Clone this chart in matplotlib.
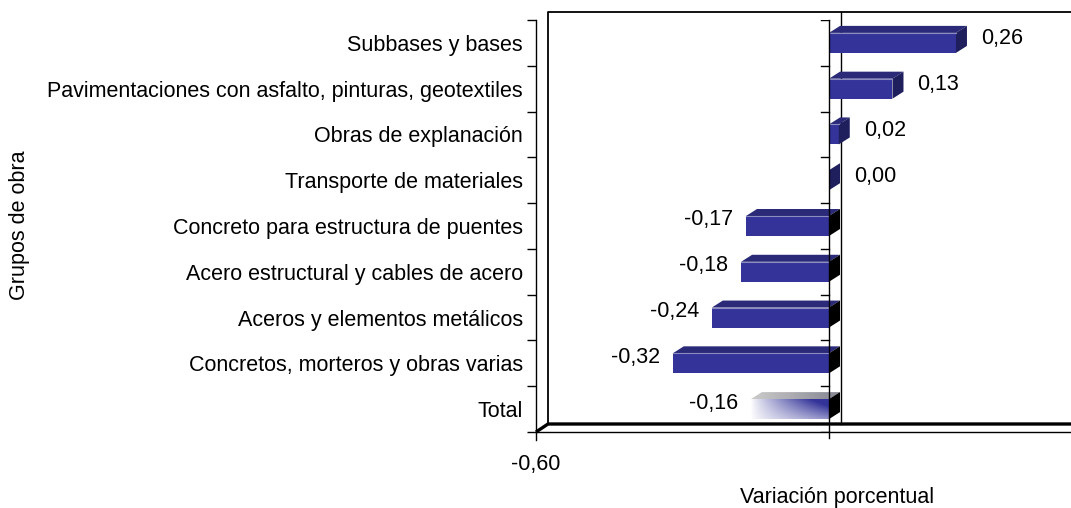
import matplotlib.pyplot as plt
import numpy as np
from matplotlib.patches import Polygon

categorias = ["Subbases y bases",
              "Pavimentaciones con asfalto, pinturas, geotextiles",
              "Obras de explanación",
              "Transporte de materiales",
              "Concreto para estructura de puentes",
              "Acero estructural y cables de acero",
              "Aceros y elementos metálicos",
              "Concretos, morteros y obras varias",
              "Total"]
variacion = [0.26, 0.13, 0.02, 0.00, -0.17, -0.18, -0.24, -0.32, -0.16]
x_ticks = [-0.60, 0.0]
x_tick_labels = ["-0,60", ""]

W, H = 1071, 508
DPI = 100
plt.rcParams['font.family'] = ['Liberation Sans', 'DejaVu Sans']
FS = 15.5

# pixel geometry of the front plane
PX_LEFT, PX_ZERO, PX_TOP, PX_BOT = 536, 829, 20, 432
px_per_unit = (PX_ZERO - PX_LEFT) / 0.6
n = len(categorias)
px_per_cat = (PX_BOT - PX_TOP) / n

fig = plt.figure(figsize=(W / DPI, H / DPI), dpi=DPI)
ax = fig.add_axes([PX_LEFT / W, (H - PX_BOT) / H, (W - PX_LEFT) / W, (PX_BOT - PX_TOP) / H])
xmax = -0.6 + (W - PX_LEFT) / px_per_unit
ax.set_xlim(-0.6, xmax)
ax.set_ylim(n - 0.5, -0.5)

def dxp(px):
    return px / px_per_unit

def dyp(px):
    return px / px_per_cat

# frame depth and bar depth
fdx, fdy = dxp(12), dyp(8)
bdx, bdy = dxp(11), dyp(7)
bh = 20 / px_per_cat

ybot = n - 0.5
ytop = -0.5
# back wall
ax.plot([-0.6 + fdx, -0.6 + fdx, xmax + 1], [ybot - fdy, ytop - fdy, ytop - fdy],
        color='black', lw=1.3, clip_on=False, zorder=1)
# floor
ax.plot([-0.6, -0.6 + fdx, xmax + 1], [ybot, ybot - fdy, ybot - fdy],
        color='black', lw=2.4, clip_on=False, zorder=1, solid_capstyle='butt')
ax.plot([-0.6, xmax + 1], [ybot, ybot], color='black', lw=1.0, clip_on=False, zorder=1)
# back zero line
ax.plot([fdx, fdx], [ybot - fdy, ytop - fdy], color='black', lw=1.0, clip_on=False, zorder=1)

front = '#333399'
top_c = '#2A2A78'
side_pos = '#1F1F5E'
edge_light = '#8C8CC0'

for i, v in enumerate(variacion):
    x0, x1 = min(0.0, v), max(0.0, v)
    yt, yb = i - bh / 2, i + bh / 2
    if i == n - 1:
        # gradient bar for the total
        gx = np.linspace(0, 1, 200)[None, :]
        gy = np.linspace(0, 1, 40)[:, None]
        t = np.clip(gx ** 0.8 * (1.0 - 0.45 * gy) + 0.25 * (1 - gy) * gx, 0, 1)
        blue = np.array([0.2, 0.2, 0.6])
        rgb = (1 - t[..., None]) * np.array([1.0, 1.0, 1.0]) + t[..., None] * blue
        ax.imshow(rgb, extent=[x0, x1, yb, yt], aspect='auto', zorder=3,
                  interpolation='bilinear')
        gt = np.linspace(0, 1, 200)[None, :]
        g = 0.80 - 0.28 * gt
        rgb2 = np.dstack([g, g, g + 0.05 * gt])
        rgb2 = np.repeat(rgb2, 10, axis=0)
        top_poly = Polygon([(x0, yt), (x1, yt), (x1 + bdx, yt - bdy), (x0 + bdx, yt - bdy)],
                           closed=True, facecolor='none', edgecolor='none')
        ax.add_patch(top_poly)
        im = ax.imshow(np.clip(rgb2, 0, 1), extent=[x0, x1 + bdx, yt, yt - bdy],
                       aspect='auto', zorder=3, interpolation='bilinear')
        im.set_clip_path(top_poly)
        ax.set_xlim(-0.6, xmax)
        ax.set_ylim(n - 0.5, -0.5)
    else:
        ax.add_patch(Polygon([(x0, yt), (x1, yt), (x1, yb), (x0, yb)], closed=True,
                             facecolor=front, edgecolor='none', zorder=3))
        ax.add_patch(Polygon([(x0, yt), (x1, yt), (x1 + bdx, yt - bdy), (x0 + bdx, yt - bdy)],
                             closed=True, facecolor=top_c, edgecolor='none', zorder=3))
        ax.plot([x0, x1], [yt, yt], color=edge_light, lw=0.8, zorder=4)
    side = side_pos if v >= 0 else 'black'
    ax.add_patch(Polygon([(x1, yt), (x1 + bdx, yt - bdy), (x1 + bdx, yb - bdy), (x1, yb)],
                         closed=True, facecolor=side, edgecolor='none', zorder=3))
    label = f"{v:.2f}".replace('.', ',')
    if v >= 0:
        ax.annotate(label, (x1 + bdx, i),
                    xytext=(14 * 72 / DPI, 4 * 72 / DPI), textcoords='offset points',
                    ha='left', va='center', fontsize=FS)
    else:
        ax.annotate(label, (x0, i),
                    xytext=(-13 * 72 / DPI, 6 * 72 / DPI), textcoords='offset points',
                    ha='right', va='center', fontsize=FS)

# front zero line with category ticks
tick_len = dxp(8)
ax.plot([0, 0], [ytop, ybot + dyp(6)], color='black', lw=1.0, clip_on=False, zorder=5)
for k in range(n + 1):
    ax.plot([-tick_len, 0], [k - 0.5, k - 0.5], color='black', lw=1.0, zorder=5)

for s in ['top', 'right', 'bottom']:
    ax.spines[s].set_visible(False)
ax.spines['left'].set_linewidth(1.0)
ax.set_yticks(range(n))
ax.set_yticklabels(categorias, fontsize=FS)
ax.tick_params(axis='y', which='major', length=0, pad=9.5)
ax.set_yticks(np.arange(n + 1) - 0.5, minor=True)
ax.tick_params(axis='y', which='minor', length=6.5, width=1.0, direction='out')
ax.set_xticks(x_ticks)
ax.set_xticklabels(x_tick_labels, fontsize=FS)
ax.tick_params(axis='x', length=0, pad=16)
ax.plot([-0.6, -0.6], [ybot, ybot + dyp(8)], color='black', lw=1.0, clip_on=False)
ax.patch.set_visible(False)

fig.text(837 / W, 1 - 497 / H, "Variación porcentual", ha='center', va='center', fontsize=FS)
fig.text(20 / W, 1 - 225 / H, "Grupos de obra", ha='center', va='center',
         rotation=90, fontsize=FS)

fig.savefig("out.png", dpi=DPI)
